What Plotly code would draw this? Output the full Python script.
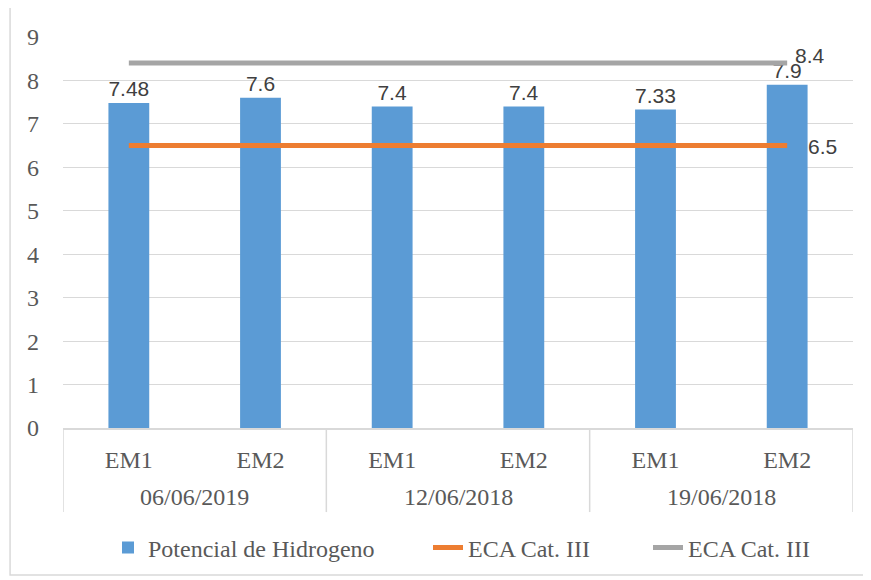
import plotly.graph_objects as go

dates = ["06/06/2019", "12/06/2018", "19/06/2018"]
stations = ["EM1", "EM2", "EM1", "EM2", "EM1", "EM2"]
ph_values = [7.48, 7.6, 7.4, 7.4, 7.33, 7.9]
eca_low = [6.5] * 6
eca_high = [8.4] * 6

xpos = list(range(len(stations)))
serif = "Liberation Serif"
sans = "Liberation Sans"
grey_text = "#595959"
label_grey = "#404040"
axis_grey = "#d9d9d9"

# page body has an 8px margin; figure is sized to fit the 871x580 window
W, H = 863, 572

fig = go.Figure()
fig.add_trace(go.Bar(
    x=xpos, y=ph_values, name="Potencial de Hidrogeno",
    marker=dict(color="#5b9bd5", line=dict(width=0)),
    text=[str(v) for v in ph_values], textposition="outside",
    textfont=dict(family=sans, size=21, color=label_grey),
    cliponaxis=False, legend="legend",
))
fig.add_trace(go.Scatter(
    x=xpos, y=eca_low, name="ECA Cat. III", mode="lines",
    line=dict(color="#ed7d31", width=5),
    cliponaxis=False, legend="legend2",
))
fig.add_trace(go.Scatter(
    x=xpos, y=eca_high, name="ECA Cat. III", mode="lines",
    line=dict(color="#a5a5a5", width=5),
    cliponaxis=False, legend="legend3",
))

annotations = [
    dict(x=xpos[-1], y=eca_high[-1], xref="x", yref="y", text=str(eca_high[-1]),
         showarrow=False, xanchor="left", yanchor="middle", xshift=6, yshift=8,
         font=dict(family=sans, size=21, color=label_grey)),
    dict(x=xpos[-1], y=eca_low[-1], xref="x", yref="y", text=str(eca_low[-1]),
         showarrow=False, xanchor="left", yanchor="middle", xshift=19, yshift=-1,
         font=dict(family=sans, size=21, color=label_grey)),
]
for i, d in enumerate(dates):
    annotations.append(dict(
        x=2 * i + 0.5, xref="x", y=-0.176, yref="paper",
        text=d, showarrow=False, yanchor="middle",
        font=dict(family=serif, size=24, color=grey_text)))
shapes = [dict(type="rect", xref="paper", yref="paper",
               x0=-0.067, x1=1.019, y0=-0.376, y1=1.077,
               line=dict(color=axis_grey, width=1.5), fillcolor="rgba(0,0,0,0)",
               layer="below")]
for b in [-0.5, 1.5, 3.5, 5.5]:
    shapes.append(dict(type="line", xref="x", yref="paper",
                       x0=b, x1=b, y0=0, y1=-0.215,
                       line=dict(color=axis_grey, width=1.5)))

leg_common = dict(orientation="h", xref="container", yref="container",
                  yanchor="middle", y=1 - 540 / H, bgcolor="rgba(0,0,0,0)",
                  font=dict(family=serif, size=24, color=grey_text))

fig.update_layout(
    width=W, height=H,
    margin=dict(l=55, r=18, t=29, b=152, autoexpand=False),
    paper_bgcolor="white", plot_bgcolor="white",
    bargap=0.69,
    showlegend=True,
    legend=dict(x=100 / W, **leg_common),
    legend2=dict(x=420 / W, **leg_common),
    legend3=dict(x=640 / W, **leg_common),
    shapes=shapes,
    annotations=annotations,
)
fig.update_xaxes(
    range=[-0.5, 5.5], tickvals=xpos, ticktext=stations,
    showline=True, linecolor=axis_grey, linewidth=1.5,
    ticks="", ticklabelstandoff=9,
    tickfont=dict(family=serif, size=24, color=grey_text),
    showgrid=False, zeroline=False, automargin=False,
)
fig.update_yaxes(
    range=[0, 9], dtick=1,
    showgrid=True, gridcolor=axis_grey, gridwidth=1.2,
    zeroline=False, showline=False,
    tickfont=dict(family=serif, size=24, color=grey_text),
    ticklabelstandoff=23, automargin=False,
)

fig.write_html("out.html")
